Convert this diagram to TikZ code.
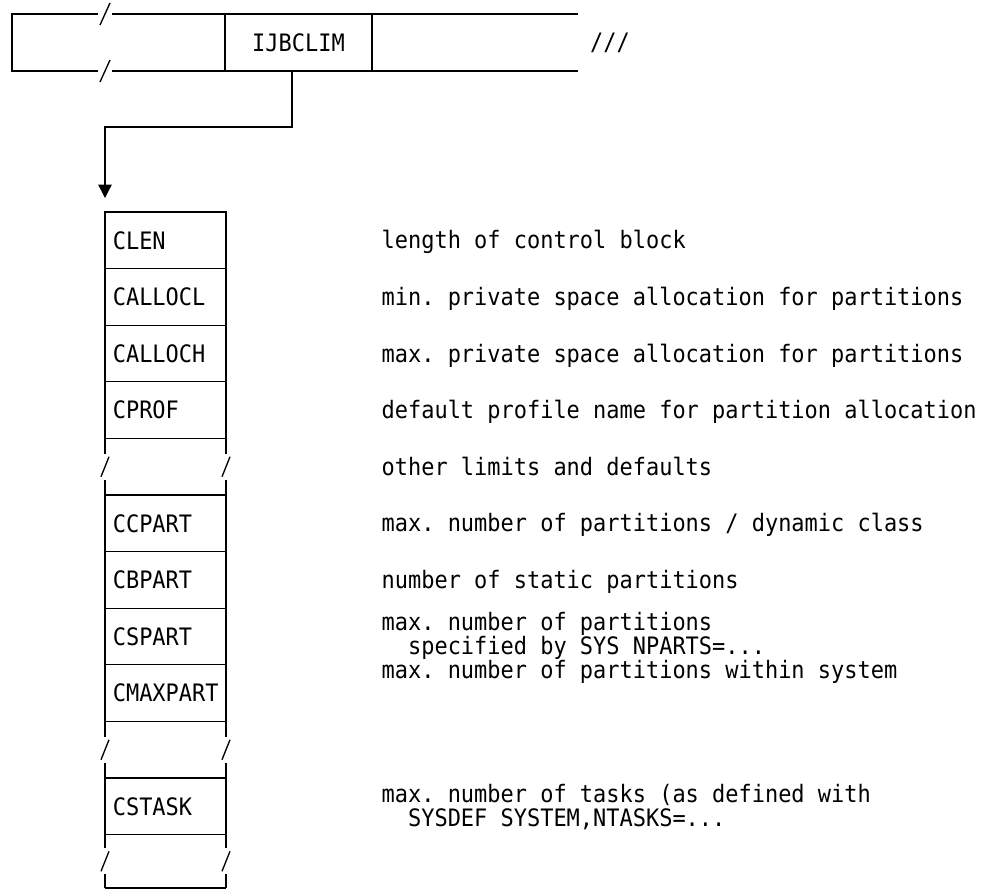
\documentclass[tikz,border=0pt]{standalone}
\usepackage{fontspec}
\setmonofont[FakeStretch=0.915]{DejaVu Sans Mono}
\usetikzlibrary{arrows.meta,positioning}
\tikzset{
  fld/.style={rectangle, draw, align=left, minimum width=90.75pt, minimum height=42.45pt, text width=79pt, inner xsep=5.9pt, inner ysep=0pt, outer sep=0pt},
  hdr/.style={rectangle, draw, align=center, minimum width=110.25pt, minimum height=42.75pt, inner sep=0pt, outer sep=0pt},
  desc/.style={anchor=base west, inner sep=0pt},
  arr/.style={-{Triangle[width=10pt,length=10pt]}}
}
\begin{document}
\begin{tikzpicture}[x=0.75pt, y=0.75pt, line width=1pt, font=\ttfamily\fontsize{18}{24}\selectfont]
\useasboundingbox (0,0) rectangle (990,-890);
% top row
\draw (98,-14) -- (12,-14) -- (12,-71) -- (98,-71);
\draw (112,-14) -- (578,-14);
\draw (112,-71) -- (578,-71);
\draw (100,-25) -- (110,-3);
\draw (100,-82) -- (110,-60);
\node[hdr] (ijbclim) at (298.5,-42.5) {IJBCLIM};
\node (more) at (610,-42.5) {///};
% pointer to the block
\coordinate (bend) at (292,-127);
\coordinate (tip) at (105,-198);
\draw[arr] (ijbclim.south -| bend) -- (bend) -| (tip);
% fields
\foreach \i/\nm/\lbl in {0/clen/CLEN, 1/callocl/CALLOCL, 2/calloch/CALLOCH, 3/cprof/CPROF, 5/ccpart/CCPART, 6/cbpart/CBPART, 7/cspart/CSPART, 8/cmaxpart/CMAXPART, 10/cstask/CSTASK}
  \node[fld] (\nm) at (165.5,{-(240.3+56.6*\i)}) {\lbl};
% gaps
\foreach \yt/\yb in {438.4/495, 721.4/778, 834.6/888} {
  \pgfmathsetmacro\c{(\yt+\yb)/2}
  \foreach \x in {105,226} {
    \draw (\x,-\yt) -- (\x,-\c+13);
    \draw (\x,-\c-13) -- (\x,-\yb);
    \draw (\x-4,-\c-10) -- (\x+4,-\c+10);
  }
}
\draw (105,-888) -- (226,-888);
% descriptions
\node[desc] (dclen) at (381,-248.8) {length of control block};
\node[desc] (dcallocl) at (381,-305.4) {min. private space allocation for partitions};
\node[desc] (dcalloch) at (381,-362) {max. private space allocation for partitions};
\node[desc] (dcprof) at (381,-418.6) {default profile name for partition allocation};
\node[desc] (dother) at (381,-475.2) {other limits and defaults};
\node[desc] (dccpart) at (381,-531.8) {max. number of partitions / dynamic class};
\node[desc] (dcbpart) at (381,-588.4) {number of static partitions};
\node[desc] (dcspart) at (381,-630) {max. number of partitions};
\node[desc] (dcspart2) at (381,-654) {\phantom{xx}specified by SYS NPARTS=...};
\node[desc] (dcmaxpart) at (381,-678) {max. number of partitions within system};
\node[desc] (dcstask) at (381,-802.7) {max. number of tasks (as defined with};
\node[desc] (dcstask2) at (381,-826.7) {\phantom{xx}SYSDEF SYSTEM,NTASKS=...};
\end{tikzpicture}
\end{document}
